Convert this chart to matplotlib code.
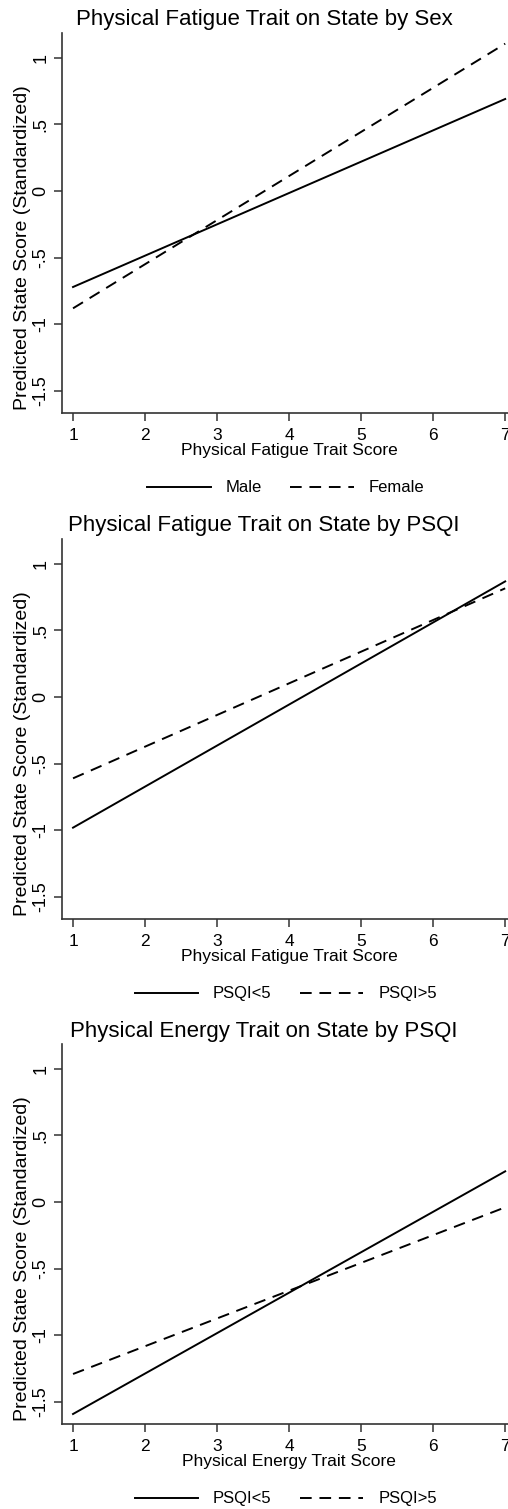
import matplotlib
matplotlib.use('Agg')
import matplotlib.pyplot as plt

plt.rcParams['font.family'] = ['Liberation Sans', 'DejaVu Sans']

# Data: predicted standardized state score at trait score 1 and 7
x_vals = [1, 7]

titles = ['Physical Fatigue Trait on State by Sex',
          'Physical Fatigue Trait on State by PSQI',
          'Physical Energy Trait on State by PSQI']
xlabels = ['Physical Fatigue Trait Score',
           'Physical Fatigue Trait Score',
           'Physical Energy Trait Score']
legend_labels = [['Male', 'Female'],
                 ['PSQI<5', 'PSQI>5'],
                 ['PSQI<5', 'PSQI>5']]

sex_male = [-0.72, 0.69]
sex_female = [-0.88, 1.105]
fat_psqi_lo = [-0.98, 0.867]
fat_psqi_hi = [-0.61, 0.815]
en_psqi_lo = [-1.59, 0.23]
en_psqi_hi = [-1.29, -0.04]

solid_series = [sex_male, fat_psqi_lo, en_psqi_lo]
dashed_series = [sex_female, fat_psqi_hi, en_psqi_hi]

xticks = [1, 2, 3, 4, 5, 6, 7]
yticks = [-1.5, -1, -0.5, 0, 0.5, 1]
yticklabels = ['-1.5', '-1', '-.5', '0', '.5', '1']

W, H = 508, 1509
fig = plt.figure(figsize=(W / 100, H / 100), dpi=100)

panel_tops = [33, 539, 1044]
ax_h = 380
ax_left = 62
ax_w = 454
axis_col = '#333333'

for i in range(3):
    top = panel_tops[i]
    ax = fig.add_axes([ax_left / W, (H - top - ax_h) / H, ax_w / W, ax_h / H])
    ax.plot(x_vals, solid_series[i], color='black', lw=1.4, label=legend_labels[i][0])
    ax.plot(x_vals, dashed_series[i], color='black', lw=1.4, dashes=(6, 4),
            label=legend_labels[i][1])
    ax.set_xlim(0.847, 7.15)
    ax.set_ylim(-1.665, 1.185)
    ax.spines['top'].set_visible(False)
    ax.spines['right'].set_visible(False)
    for s in ['left', 'bottom']:
        ax.spines[s].set_color(axis_col)
        ax.spines[s].set_linewidth(1.2)
    ax.set_xticks(xticks)
    ax.set_xticklabels([str(t) for t in xticks], fontsize=12.5)
    ax.set_yticks(yticks)
    ax.set_yticklabels(yticklabels, fontsize=13, rotation=90, va='center')
    ax.tick_params(axis='both', length=6, width=1.1, color=axis_col, pad=5)
    ax.tick_params(axis='y', pad=3)
    ax.set_xlabel(xlabels[i], fontsize=12.5, labelpad=0)
    ax.set_ylabel('Predicted State Score (Standardized)', fontsize=14)
    ax.yaxis.set_label_coords(-0.068, 0.435)
    fig.text(264 / W, (H - top + 13) / H, titles[i], fontsize=16,
             ha='center', va='center')
    ax.legend(loc='center', bbox_to_anchor=(0.493, -0.197), ncol=2, frameon=False,
              fontsize=12, handlelength=3.8, handletextpad=0.9, columnspacing=1.7)

fig.savefig('out.png', dpi=100)
